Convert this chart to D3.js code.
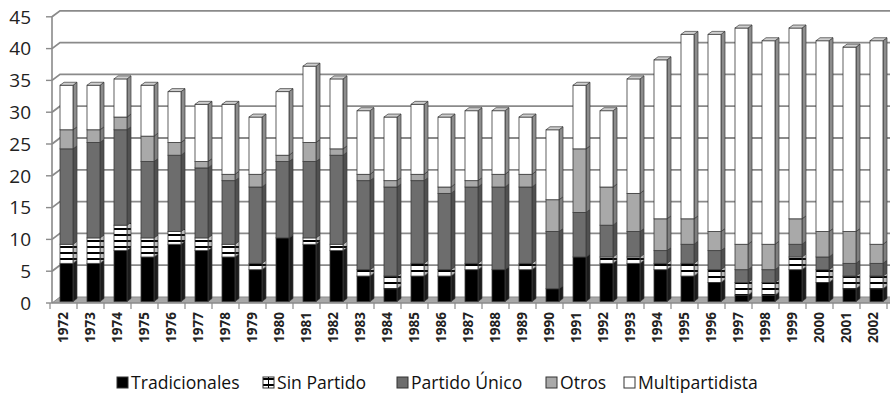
<!DOCTYPE html>
<html>
<head>
<meta charset="utf-8">
<script src="https://cdn.jsdelivr.net/npm/d3@7/dist/d3.min.js"></script>
<style>
  html, body { margin: 0; padding: 0; background: #fff; }
  svg { display: block; }
</style>
</head>
<body>
<svg id="chart" width="890" height="415"></svg>
<script>
const years = ["1972","1973","1974","1975","1976","1977","1978","1979","1980","1981","1982","1983","1984","1985","1986","1987","1988","1989","1990","1991","1992","1993","1994","1995","1996","1997","1998","1999","2000","2001","2002"];
const tradicionales  = [6,6,8,7,9,8,7,5,10,9,8,4,2,4,4,5,5,5,2,7,6,6,5,4,3,1,1,5,3,2,2];
const sinPartido     = [3,4,4,3,2,2,2,1,0,1,1,1,2,2,1,1,0,1,0,0,1,1,1,2,2,2,2,2,2,2,2];
const partidoUnico   = [15,15,15,12,12,11,10,12,12,12,14,14,14,13,12,12,13,12,9,7,5,4,2,3,3,2,2,2,2,2,2];
const otros          = [3,2,2,4,2,1,1,2,1,3,1,1,1,1,1,1,2,2,5,10,6,6,5,4,3,4,4,4,4,5,3];
const multipartidista= [7,7,6,8,8,9,11,9,10,12,11,10,10,11,11,11,10,9,11,10,12,18,25,29,31,34,32,30,30,29,32];
const seriesNames = ["Tradicionales","Sin Partido","Partido Único","Otros","Multipartidista"];
const yTicks = [0,5,10,15,20,25,30,35,40,45];

const seriesValues = [tradicionales, sinPartido, partidoUnico, otros, multipartidista];
const table = years.map((yr, i) => {
  const row = { year: yr };
  seriesNames.forEach((s, k) => row[s] = seriesValues[k][i]);
  return row;
});
const stack = d3.stack().keys(seriesNames)(table);

const svg = d3.select("#chart");
const defs = svg.append("defs");
const pat = defs.append("pattern").attr("id","stripes").attr("patternUnits","userSpaceOnUse")
  .attr("width",6).attr("height",6);
pat.append("rect").attr("width",6).attr("height",6).attr("fill","#fff");
pat.append("rect").attr("y",0).attr("width",6).attr("height",2).attr("fill","#000");
const pat2 = defs.append("pattern").attr("id","stripesSide").attr("patternUnits","userSpaceOnUse")
  .attr("width",6).attr("height",6);
pat2.append("rect").attr("width",6).attr("height",6).attr("fill","#bbb");
pat2.append("rect").attr("y",0).attr("width",6).attr("height",2).attr("fill","#111");

const styles = {
  "Tradicionales":  { front:"#000000", side:"#1c1c1c", top:"#444444" },
  "Sin Partido":    { front:"url(#stripes)", side:"url(#stripesSide)", top:"#dddddd" },
  "Partido Único":  { front:"#6d6d6d", side:"#505050", top:"#8a8a8a" },
  "Otros":          { front:"#a9a9a9", side:"#7e7e7e", top:"#c4c4c4" },
  "Multipartidista":{ front:"#ffffff", side:"#8c8c8c", top:"#cfcfcf" }
};

const x = d3.scaleBand().domain(years).range([50, 887]).paddingInner(0).paddingOuter(0);
const y = d3.scaleLinear().domain([0,45]).range([303, 16.8]);

const WDX = 8, WDY = -6;
const BOX = 3, BOY = -1.5;
const SDX = 4, SDY = -3;
const gridColor = "#8a8a8a";
const FONT = "'Open Sans', 'DejaVu Sans', sans-serif";

const grid = svg.append("g");
yTicks.forEach(t => {
  if (t === 0) return;
  const yf = y(t), yb = y(t) + WDY;
  grid.append("path")
    .attr("d", `M52,${yf}L${52+WDX},${yb}L892,${yb}`)
    .attr("fill","none").attr("stroke",gridColor).attr("stroke-width",1.8);
});

svg.append("path")
  .attr("d", `M52,${y(0)}L895,${y(0)}L${895+WDX},${y(0)+WDY}L${52+WDX},${y(0)+WDY}Z`)
  .attr("fill","#a8a8a8").attr("stroke","#8a8a8a").attr("stroke-width",1);

svg.append("line").attr("x1",52).attr("x2",52).attr("y1",y(45)).attr("y2",y(0))
  .attr("stroke",gridColor).attr("stroke-width",1.6);
const yAxis = svg.append("g");
yTicks.forEach(t => {
  yAxis.append("line").attr("x1",46).attr("x2",52).attr("y1",y(t)).attr("y2",y(t))
    .attr("stroke",gridColor).attr("stroke-width",1.4);
  yAxis.append("text").attr("x",31).attr("y",y(t)).attr("dy","0.36em")
    .attr("text-anchor","end")
    .attr("font-family",FONT)
    .attr("font-size",19).attr("fill","#222").text(t);
});

const xAxis = svg.append("g");
years.concat(["__end"]).forEach((yr, i) => {
  const xp = i < years.length ? x(yr) : x.range()[1];
  xAxis.append("line").attr("x1",xp).attr("x2",xp).attr("y1",y(0)).attr("y2",y(0)+6)
    .attr("stroke",gridColor).attr("stroke-width",1.2);
});
xAxis.append("line").attr("x1",52).attr("x2",890).attr("y1",y(0)).attr("y2",y(0))
  .attr("stroke",gridColor).attr("stroke-width",1.2);
years.forEach(yr => {
  const cx = x(yr) + x.bandwidth()/2;
  const lg = xAxis.append("g").attr("transform", `translate(${cx + 4.5},312) rotate(-90)`);
  lg.append("text")
    .attr("x",0).attr("y",0)
    .attr("text-anchor","end")
    .attr("font-family",FONT)
    .attr("font-weight","bold")
    .attr("font-size",13.5).attr("fill","#222").text(yr);
});

const barW = 13;
const bars = svg.append("g");
years.forEach((yr, i) => {
  const x0 = x(yr) + x.bandwidth()/2 - barW/2 + BOX;
  const g = bars.append("g");
  let topY = null, topKey = null;
  stack.forEach(layer => {
    const d = layer[i];
    if (d[1] - d[0] <= 0) return;
    const key = layer.key, st = styles[key];
    const yt = y(d[1]) + BOY, yb = y(d[0]) + BOY;
    g.append("path")
      .attr("d", `M${x0+barW},${yb}L${x0+barW+SDX},${yb+SDY}L${x0+barW+SDX},${yt+SDY}L${x0+barW},${yt}Z`)
      .attr("fill", st.side).attr("stroke","#3a3a3a").attr("stroke-width",0.7);
    g.append("rect").attr("x",x0).attr("y",yt).attr("width",barW).attr("height",yb-yt)
      .attr("fill", st.front).attr("stroke","#3a3a3a").attr("stroke-width",0.8);
    topY = yt; topKey = key;
  });
  if (topY !== null) {
    g.append("path")
      .attr("d", `M${x0},${topY}L${x0+SDX},${topY+SDY}L${x0+barW+SDX},${topY+SDY}L${x0+barW},${topY}Z`)
      .attr("fill", styles[topKey].top).attr("stroke","#3a3a3a").attr("stroke-width",0.7);
  }
});

const legendX = [117, 263, 397, 546, 624];
const legendY = 383;
const leg = svg.append("g");
seriesNames.forEach((s, k) => {
  const lx = legendX[k];
  const st = styles[s];
  leg.append("rect").attr("x",lx).attr("y",legendY-6).attr("width",11).attr("height",11)
    .attr("fill", st.front).attr("stroke","#333").attr("stroke-width",1);
  if (s === "Sin Partido") {
    leg.append("line").attr("x1",lx+5.5).attr("x2",lx+5.5).attr("y1",legendY-6).attr("y2",legendY+5)
      .attr("stroke","#000").attr("stroke-width",1);
  }
  leg.append("text").attr("x",lx+14).attr("y",legendY).attr("dy","0.36em")
    .attr("font-family",FONT)
    .attr("font-size",17.6).attr("fill","#111").text(s);
});
</script>
</body>
</html>
